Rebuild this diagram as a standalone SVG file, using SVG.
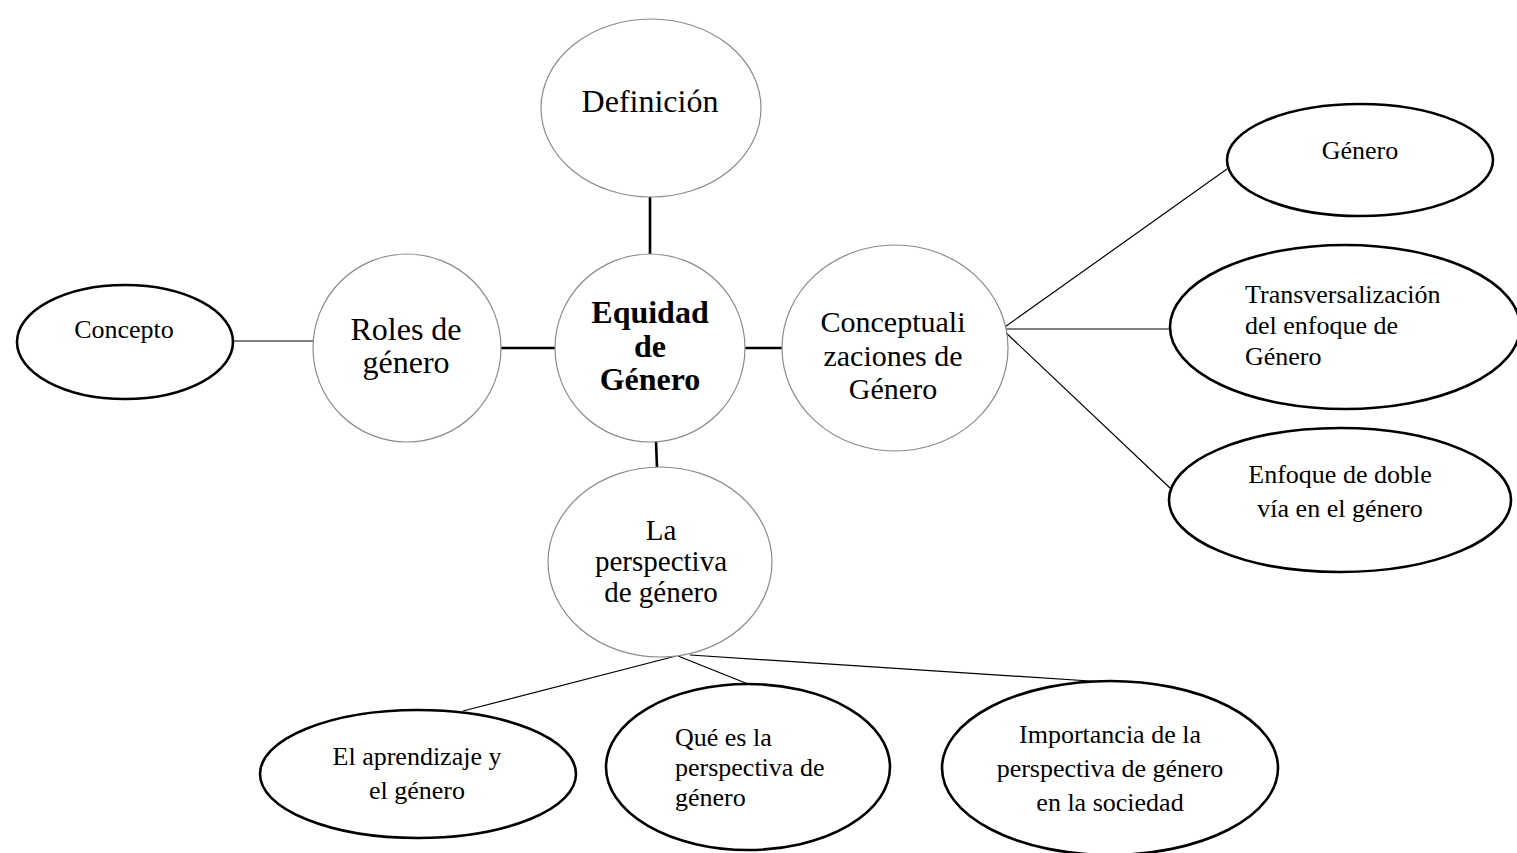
<svg xmlns="http://www.w3.org/2000/svg" width="1517" height="853" viewBox="0 0 1517 853">
<style>
.c{fill:#fff;stroke:#8a8a8a;stroke-width:1.2}
.e{fill:#fff;stroke:#000;stroke-width:2.6}
.t{font-family:"Liberation Serif","Times New Roman",serif;fill:#000}
.big{font-size:32px}
.cz{font-size:30px}
.mid{font-size:29px}
.sm{font-size:26px}
.b{font-weight:bold}
.thick{stroke:#000;stroke-width:2.6;fill:none}
.thin{stroke:#000;stroke-width:1.2;fill:none}
</style>
<rect width="1517" height="853" fill="#fff"/>
<g id="connectors">
<line class="thick" x1="650" y1="197" x2="650" y2="256"/>
<line class="thick" x1="501" y1="348" x2="556" y2="348"/>
<line class="thick" x1="745" y1="348" x2="782" y2="348"/>
<line class="thick" x1="656" y1="441" x2="657" y2="468"/>
<line class="thin" x1="233" y1="341" x2="313" y2="341"/>
<line class="thin" x1="1002" y1="329" x2="1227" y2="169"/>
<line class="thin" x1="1002" y1="329" x2="1170" y2="329"/>
<line class="thin" x1="1002" y1="329" x2="1170" y2="488"/>
<line class="thin" x1="676" y1="656" x2="463" y2="711"/>
<line class="thin" x1="678" y1="656" x2="758" y2="688"/>
<line class="thin" x1="690" y1="655" x2="1105" y2="682"/>
</g>
<g id="definicion">
<ellipse class="c" cx="651" cy="108" rx="110" ry="89"/>
<text class="t big" x="650" y="112" text-anchor="middle">Definición</text>
</g>
<g id="equidad">
<ellipse class="c" cx="650" cy="348" rx="95" ry="94"/>
<text class="t big b" text-anchor="middle"><tspan x="650" y="323">Equidad</tspan><tspan x="650" y="357">de</tspan><tspan x="650" y="390">Género</tspan></text>
</g>
<g id="roles">
<ellipse class="c" cx="407" cy="348" rx="94" ry="94"/>
<text class="t big" text-anchor="middle"><tspan x="406" y="340">Roles de</tspan><tspan x="406" y="373">género</tspan></text>
</g>
<g id="conceptualizaciones">
<ellipse class="c" cx="895" cy="348" rx="113" ry="103"/>
<text class="t cz" text-anchor="middle"><tspan x="893" y="332">Conceptuali</tspan><tspan x="893" y="366">zaciones de</tspan><tspan x="893" y="399">Género</tspan></text>
</g>
<g id="perspectiva">
<ellipse class="c" cx="660" cy="562" rx="112" ry="95"/>
<text class="t mid" text-anchor="middle"><tspan x="661" y="540">La</tspan><tspan x="661" y="571">perspectiva</tspan><tspan x="661" y="602">de género</tspan></text>
</g>
<g id="concepto">
<ellipse class="e" cx="125" cy="342" rx="108" ry="57"/>
<text class="t sm" x="124" y="338" text-anchor="middle">Concepto</text>
</g>
<g id="genero">
<ellipse class="e" cx="1360" cy="160" rx="133" ry="56"/>
<text class="t sm" x="1360" y="159" text-anchor="middle">Género</text>
</g>
<g id="transversalizacion">
<ellipse class="e" cx="1345" cy="327" rx="175" ry="82"/>
<text class="t sm"><tspan x="1245" y="303">Transversalización</tspan><tspan x="1245" y="334">del enfoque de</tspan><tspan x="1245" y="365">Género</tspan></text>
</g>
<g id="enfoque">
<ellipse class="e" cx="1340" cy="500" rx="171" ry="72"/>
<text class="t sm" text-anchor="middle"><tspan x="1340" y="483">Enfoque de doble</tspan><tspan x="1340" y="517">vía en el género</tspan></text>
</g>
<g id="aprendizaje">
<ellipse class="e" cx="418" cy="774" rx="158" ry="64"/>
<text class="t sm" text-anchor="middle"><tspan x="417" y="765">El aprendizaje y</tspan><tspan x="417" y="799">el género</tspan></text>
</g>
<g id="quees">
<ellipse class="e" cx="748" cy="767" rx="142" ry="83"/>
<text class="t sm"><tspan x="675" y="746">Qué es la</tspan><tspan x="675" y="776">perspectiva de</tspan><tspan x="675" y="806">género</tspan></text>
</g>
<g id="importancia">
<ellipse class="e" cx="1110" cy="768" rx="168" ry="87"/>
<text class="t sm" text-anchor="middle"><tspan x="1110" y="743">Importancia de la</tspan><tspan x="1110" y="777">perspectiva de género</tspan><tspan x="1110" y="811">en la sociedad</tspan></text>
</g>
</svg>
